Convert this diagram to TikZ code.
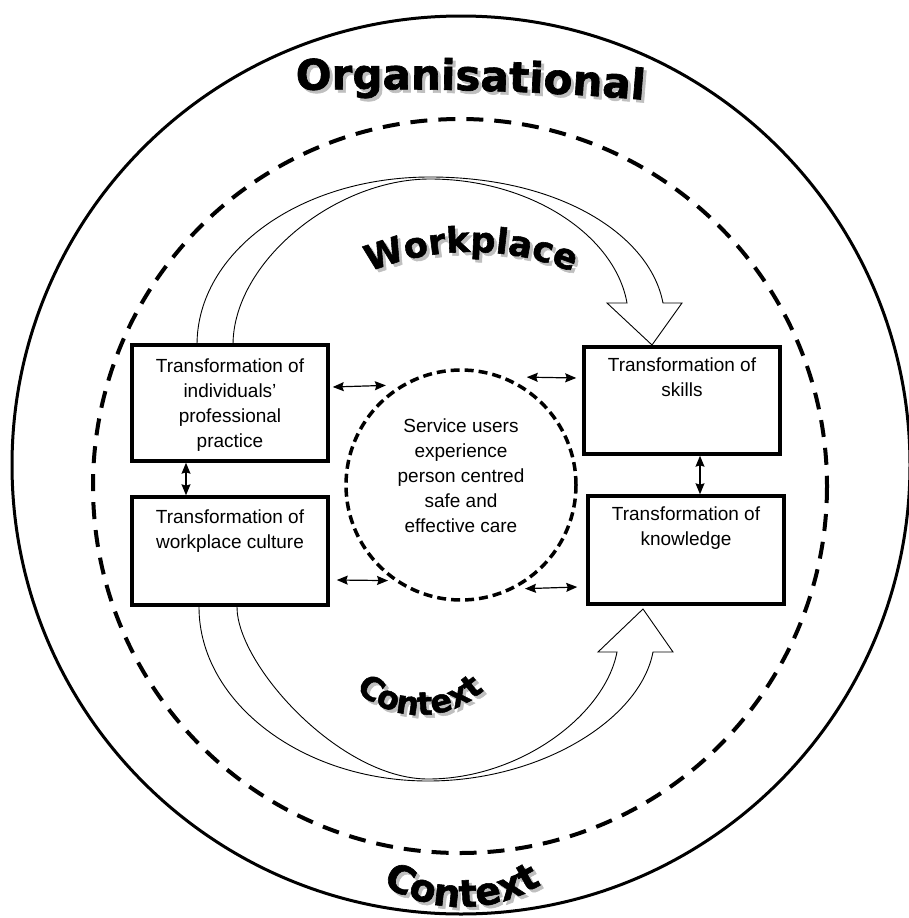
\documentclass[tikz,border=0pt]{standalone}
\usepackage{fontspec}
\setmainfont{Liberation Sans}
\newfontfamily\titlefont[FakeBold=1.6]{DejaVu Sans Bold}
\usepackage{tikz}
\usetikzlibrary{positioning}
\usetikzlibrary{arrows.meta}
\usetikzlibrary{decorations.text}

\tikzset{
  box/.style={draw, line width=3.5pt, minimum width=196pt, inner sep=0pt},
  boxtext/.style={align=center, inner sep=0pt, font=\fontsize{19}{25}\selectfont},
  svc/.style={circle, draw, line width=3.5pt, dash pattern=on 9pt off 5pt, minimum size=230pt, inner sep=0pt},
  link/.style={{Stealth[length=11pt,width=9pt,inset=1.5pt]}-{Stealth[length=11pt,width=9pt,inset=1.5pt]}, line width=1.2pt},
  bigarrow/.style={line width=0.9pt},
  arctitle/.style 2 args={decorate, decoration={text along path, text align=center,
      text={|\titlefont\fontsize{#1}{#1}\selectfont|#2}}},
  arcshadow/.style 2 args={decorate, decoration={text along path, text align=center,
      text={|\titlefont\fontsize{#1}{#1}\selectfont\color{black!25}|#2}}},
}

\begin{document}
\begin{tikzpicture}[x=1pt,y=-1pt]
        \useasboundingbox (0,0) rectangle (908,918);

        % context rings
        \draw[line width=3pt] (461,465) circle[radius=449];
        \draw[line width=4pt, dash pattern=on 17pt off 11pt] (460,486) circle[radius=367];

        % curved titles, shadow first
        \path[arcshadow={42}{Organisational}, shift={(3,3)}] (250,91) .. controls (400,87) and (540,89) .. (690,104);
        \path[arctitle={42}{Organisational}] (250,91) .. controls (400,87) and (540,89) .. (690,104);

        \path[arcshadow={35}{Workplace}, shift={(3,3)}] (471,520) ++(240:268) arc[start angle=240, end angle=300, radius=268];
        \path[arctitle={35}{Workplace}] (471,520) ++(240:268) arc[start angle=240, end angle=300, radius=268];

        \path[arcshadow={32}{Context}, shift={(3,3)}] (420,620) ++(140:95) arc[start angle=140, end angle=40, radius=95];
        \path[arctitle={32}{Context}] (420,620) ++(140:95) arc[start angle=140, end angle=40, radius=95];

        \path[arcshadow={38}{Context}, shift={(3,3)}] (462,757) ++(135:150) arc[start angle=135, end angle=45, radius=150];
        \path[arctitle={38}{Context}] (462,757) ++(135:150) arc[start angle=135, end angle=45, radius=150];

        % big hollow arrows
        \coordinate (UT) at (652,345);
        \coordinate (LT) at (643,609);
        \draw[bigarrow] (233,345) .. controls (233,262) and (335,179) .. (430,179)
                .. controls (530,179) and (615,235) .. (627,303) -- (607,303) -- (UT)
                -- (682,303) -- (663,303) .. controls (650,235) and (560,177) .. (430,177)
                .. controls (301,177) and (197,251) .. (197,345);
        \draw[bigarrow] (237,607) .. controls (237,665) and (340,779) .. (428,779)
                .. controls (520,779) and (605,715) .. (617,652) -- (598,652) -- (LT)
                -- (673,652) -- (653,652) .. controls (640,720) and (540,781) .. (428,781)
                .. controls (302,781) and (199,702) .. (199,607);

        % boxes
        \node[box, minimum height=116pt] (tl) at (230,403) {};
        \node[box, minimum height=108pt] (bl) at (230,551) {};
        \node[box, minimum height=107pt] (tr) at (682,400.5) {};
        \node[box, minimum height=108pt] (br) at (686,550) {};
        \node[boxtext, below=15pt of tl.north] (tltext) {Transformation of\\individuals'\\professional\\practice};
        \node[boxtext, below=14pt of bl.north] (bltext) {Transformation of\\workplace culture};
        \node[boxtext, below=12pt of tr.north] (trtext) {Transformation of\\skills};
        \node[boxtext, below=12pt of br.north] (brtext) {Transformation of\\knowledge};

        % centre
        \node[svc] (svc) at (461,485) {};
        \node[boxtext] (svctext) at (461,476) {Service users\\experience\\person centred\\safe and\\effective care};

        % links
        \draw[link, shorten >=15pt] ([xshift=3pt,yshift=16pt]tl.east) -- (svc.121.5);
        \draw[link, shorten >=6pt] ([xshift=7pt,yshift=-29pt]bl.east) -- (svc.235.7);
        \draw[link, shorten <=22pt] (svc.68.6) -- ([xshift=-6pt,yshift=22.5pt]tr.west);
        \draw[link, shorten <=11pt] (svc.297.5) -- ([xshift=-9pt,yshift=-37pt]br.west);
        \draw[link] ([xshift=-44pt]tl.south) -- ([xshift=-44pt]bl.north);
        \draw[link] ([xshift=18pt]tr.south) -- ([xshift=14pt]br.north);
\end{tikzpicture}
\end{document}
